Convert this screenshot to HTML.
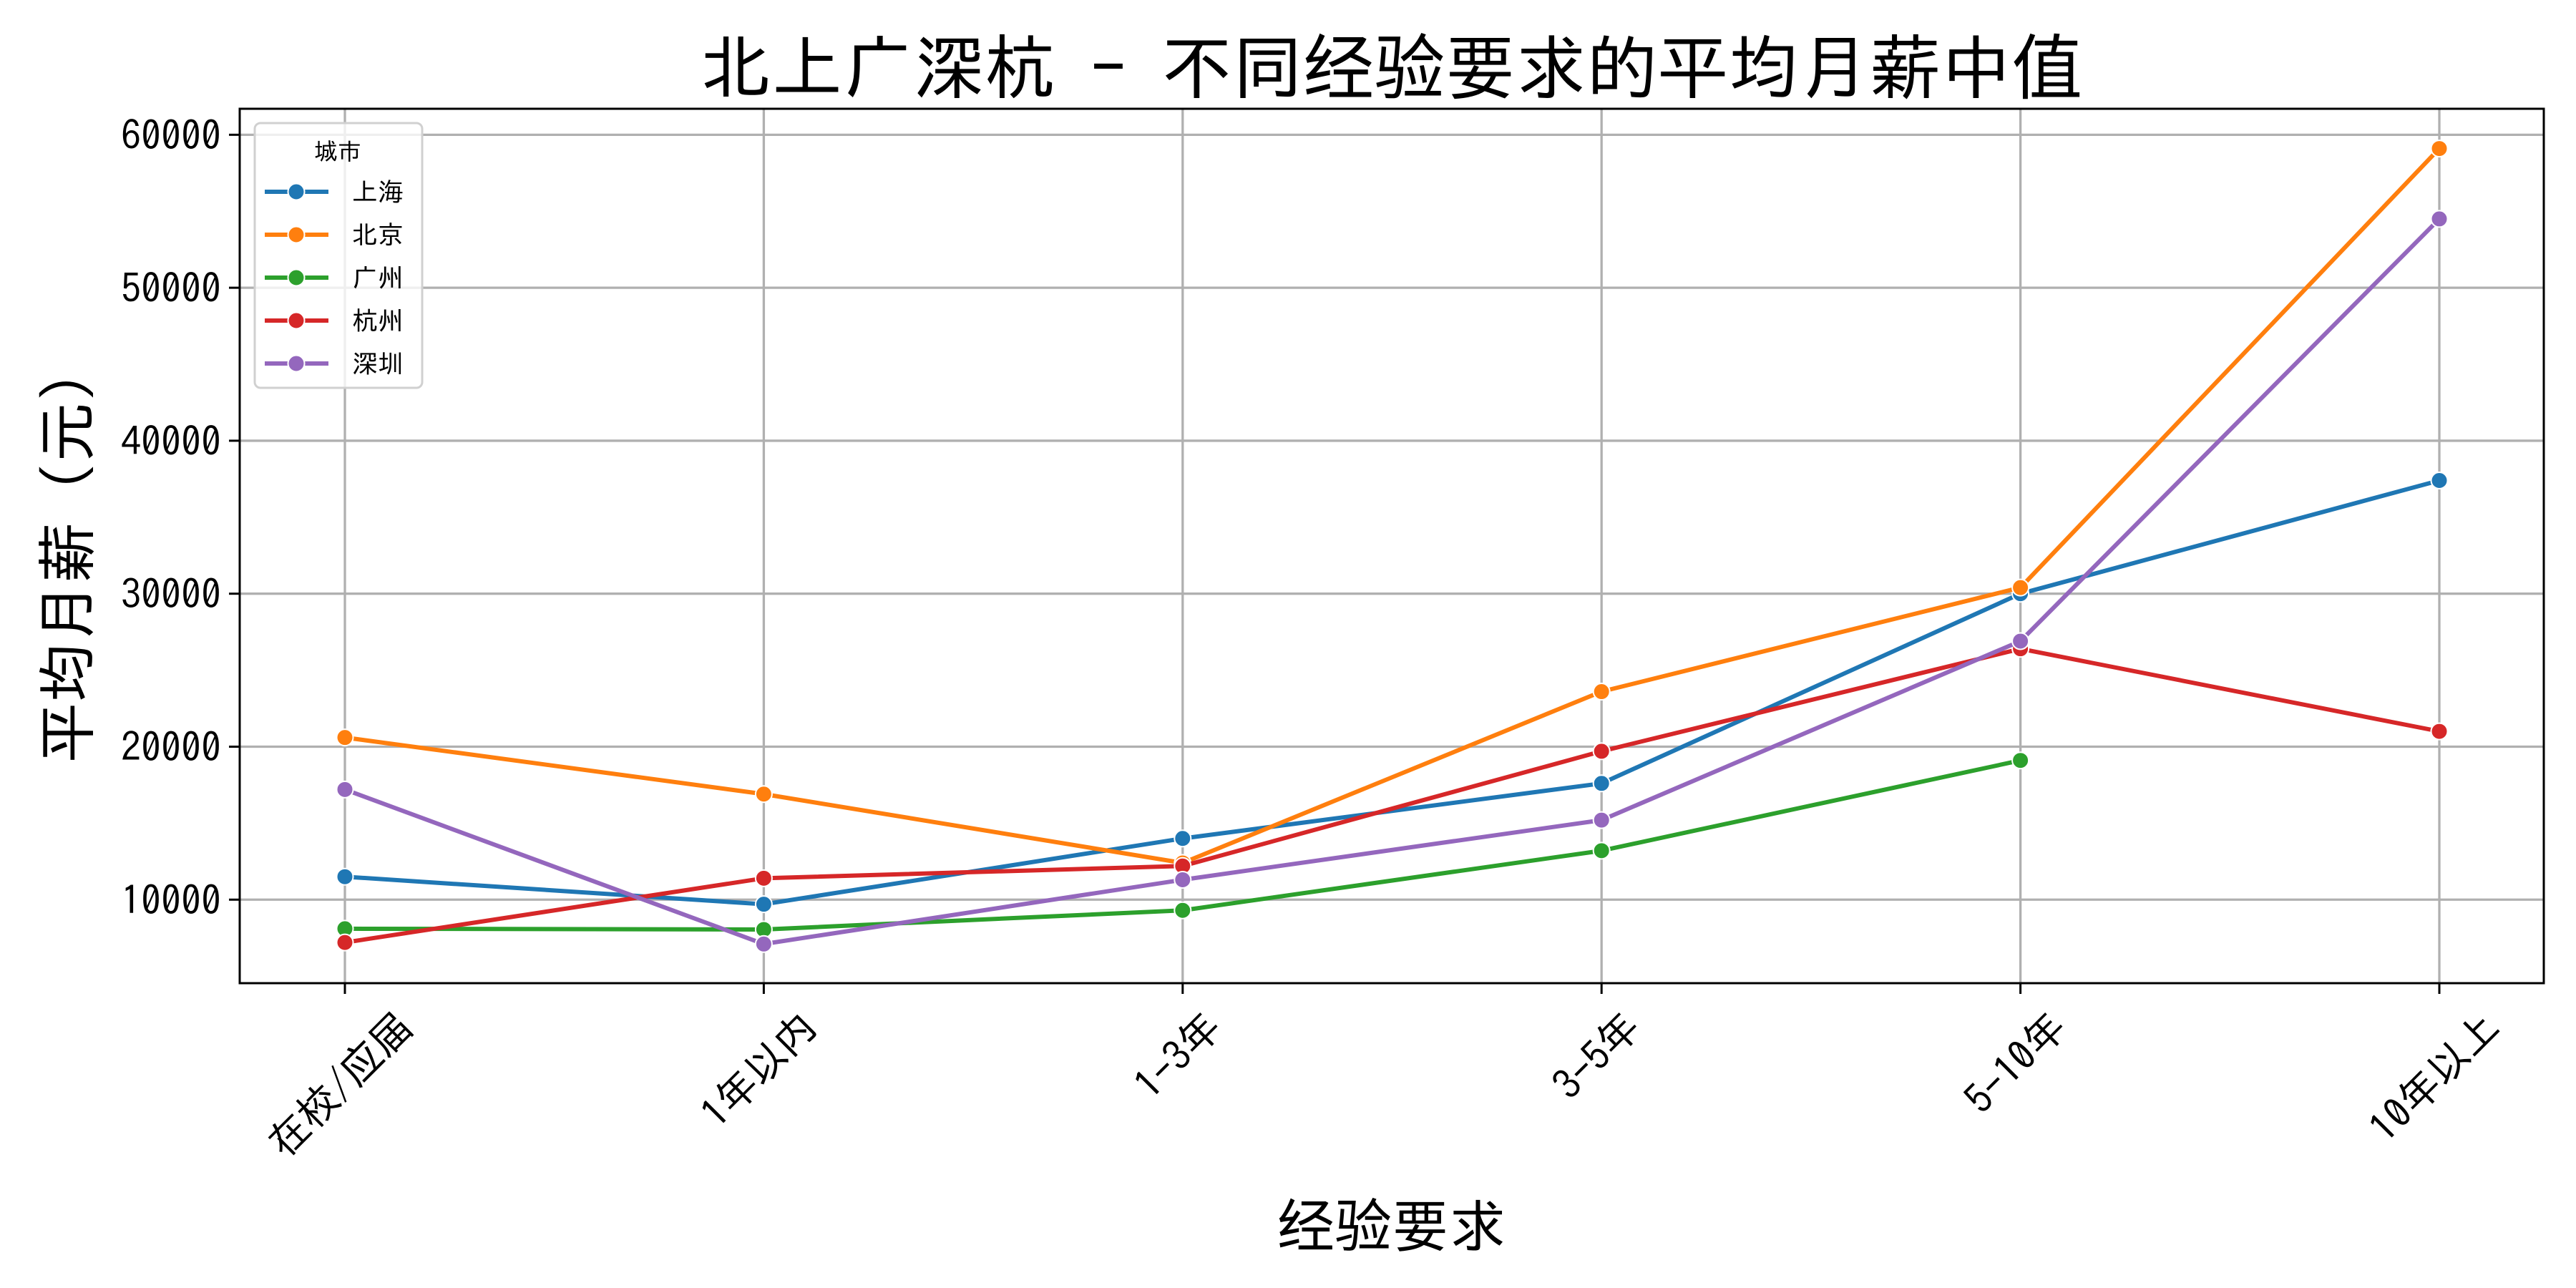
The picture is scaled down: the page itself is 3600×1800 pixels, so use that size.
<!DOCTYPE html>
<html><head><meta charset="utf-8"><style>
html,body{margin:0;padding:0;background:#fff;}
svg{display:block;font-family:"IPAGothic","Noto Sans CJK SC",sans-serif;}
</style></head><body>
<svg id="chart" width="3600" height="1800" viewBox="0 0 3600 1800">
<rect width="3600" height="1800" fill="#fff"/>
<g id="grid"></g><g id="series"></g><g id="axes"></g><g id="legend"></g>
<text x="1945" y="130" font-size="99" text-anchor="middle">北上广深杭 - 不同经验要求的平均月薪中值</text>
<text x="0" y="0" font-size="84" text-anchor="middle" transform="translate(124,772) rotate(-90)">平均月薪（元）</text>
<text x="1945" y="1742" font-size="80" text-anchor="middle">经验要求</text>
</svg>
<script>
const categories=["在校/应届","1年以内","1-3年","3-5年","5-10年","10年以上"];
const cities=["上海","北京","广州","杭州","深圳"];
const colors=["#1f77b4","#ff7f0e","#2ca02c","#d62728","#9467bd"];
const shanghai=[11500,9700,14000,17600,30000,37400];
const beijing=[20600,16900,12400,23600,30400,59100];
const guangzhou=[8100,8050,9300,13200,19100,null];
const hangzhou=[7200,11400,12200,19700,26400,21000];
const shenzhen=[17200,7100,11300,15200,26900,54500];
const yTicks=[10000,20000,30000,40000,50000,60000];
const seriesList=[shanghai,beijing,guangzhou,hangzhou,shenzhen];

const NS="http://www.w3.org/2000/svg";
const L=335,R=3555,T=152,B=1374;
const yMin=4540,yMax=61700;
function xs(i){return 482+i*(3409-482)/(categories.length-1);}
function ys(v){return B-(v-yMin)/(yMax-yMin)*(B-T);}
function mk(tag,attrs,parent){const e=document.createElementNS(NS,tag);for(const k in attrs)e.setAttribute(k,attrs[k]);parent.appendChild(e);return e;}
const grid=document.getElementById('grid'),axes=document.getElementById('axes'),ser=document.getElementById('series'),leg=document.getElementById('legend');

categories.forEach((c,i)=>{
  const g=mk('line',{x1:xs(i),x2:xs(i),y1:T,y2:B,stroke:'#b0b0b0','stroke-width':3.3},grid);
  
  
  const t=mk('line',{x1:xs(i),x2:xs(i),y1:B,y2:B+15,stroke:'#000','stroke-width':3},axes);
  
  
  const tx=mk('text',{'font-size':57,'text-anchor':'middle','dominant-baseline':'central'},axes);
  tx.textContent=c;
  
  
  const w=tx.getComputedTextLength(),h=57;
  const half=(w+h)/Math.SQRT2/2;
  tx.setAttribute('transform','translate('+(xs(i)-8)+','+(B+30+half)+') rotate(-45)');
});
yTicks.forEach(v=>{
  const g=mk('line',{x1:L,x2:R,y1:ys(v),y2:ys(v),stroke:'#b0b0b0','stroke-width':3.3},grid);
  
  
  const t=mk('line',{x1:L-15,x2:L,y1:ys(v),y2:ys(v),stroke:'#000','stroke-width':3},axes);
  
  
  const tx=mk('text',{x:L-26,y:ys(v),'font-size':56,'text-anchor':'end','dominant-baseline':'central'},axes);
  tx.textContent=v;
  
  
});
const frame=mk('rect',{x:L,y:T,width:R-L,height:B-T,fill:'none',stroke:'#000','stroke-width':3},axes);



seriesList.forEach((data,s)=>{
  let pts=[];
  data.forEach((v,i)=>{if(v!==null)pts.push(xs(i)+','+ys(v));});
  const pl=mk('polyline',{points:pts.join(' '),fill:'none',stroke:colors[s],'stroke-width':6,'stroke-linejoin':'round'},ser);
  
  
  data.forEach((v,i)=>{
    if(v===null)return;
    const c=mk('circle',{cx:xs(i),cy:ys(v),r:11.5,fill:colors[s],stroke:'#fff','stroke-width':2},ser);
    
    
  });
});

const box=mk('rect',{x:356,y:172,width:234,height:370,rx:8,fill:'#fff','fill-opacity':0.8,stroke:'#d0d0d0','stroke-width':3},leg);


const lt=mk('text',{x:472,y:211,'font-size':33,'text-anchor':'middle','dominant-baseline':'central'},leg);
lt.textContent='城市';


cities.forEach((c,s)=>{
  const y=268+s*60;
  const g=mk('g',{},leg);
  
  
  mk('line',{x1:370,x2:459,y1:y,y2:y,stroke:colors[s],'stroke-width':6},g);
  mk('circle',{cx:414,cy:y,r:11.5,fill:colors[s],stroke:'#fff','stroke-width':2},g);
  const t=mk('text',{x:492,y:y,'font-size':36,'dominant-baseline':'central'},g);
  t.textContent=c;
});
</script>
</body></html>
